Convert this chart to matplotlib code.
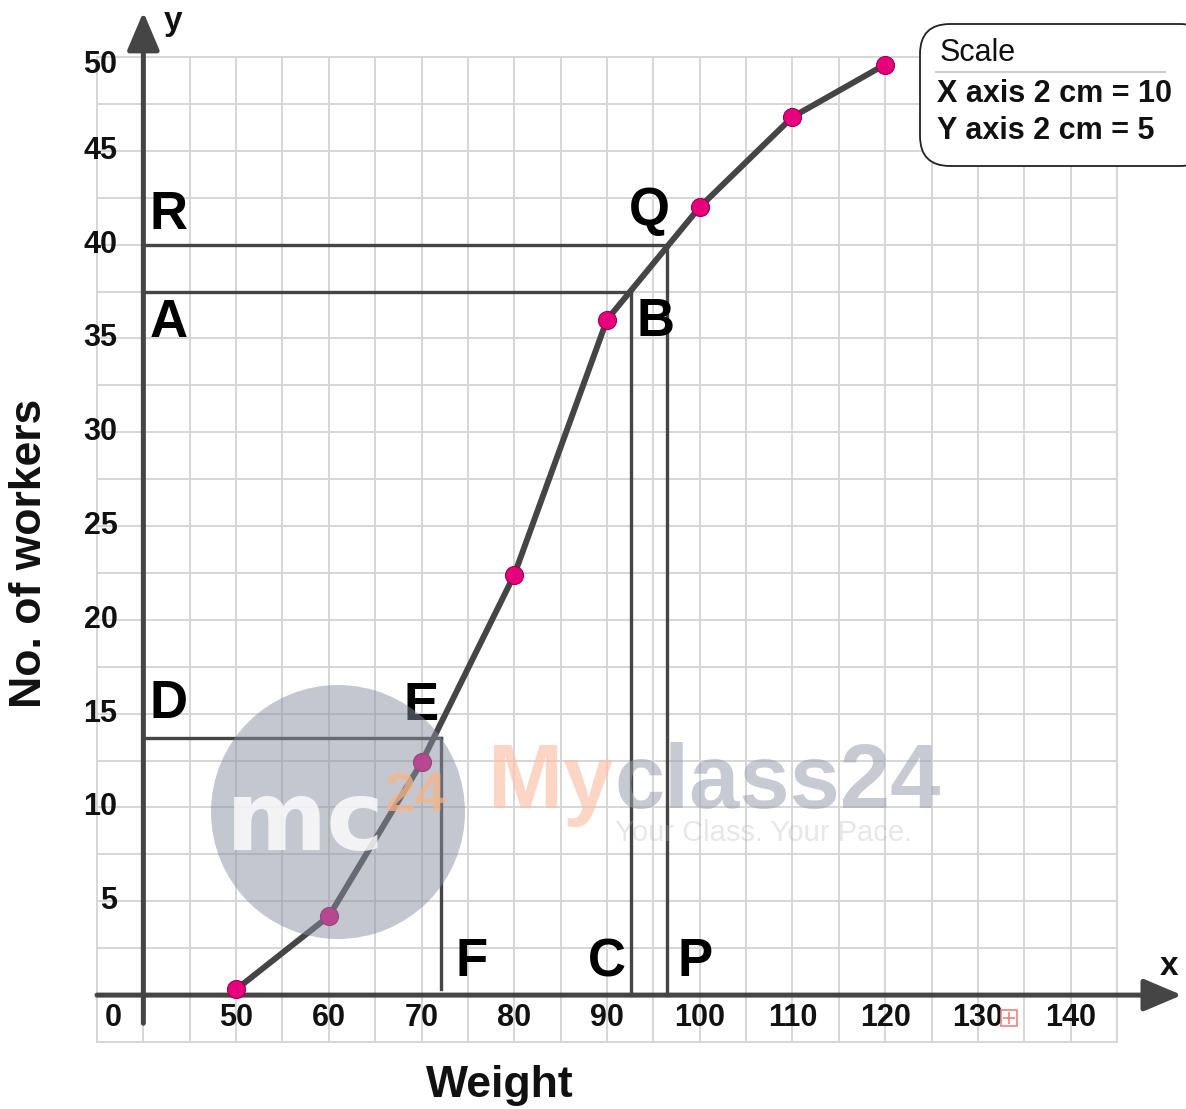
import numpy as np
import matplotlib
matplotlib.use("Agg")
import matplotlib.pyplot as plt
from matplotlib.patches import Circle, FancyBboxPatch

W, H = 1186, 1109

# ogive data (upper class limits vs cumulative number of workers)
weights = [50, 60, 70, 80, 90, 100, 110, 120]
cum_workers = [0.3, 4.2, 12.4, 22.4, 36, 42, 46.8, 49.6]

x_ticks = [50, 60, 70, 80, 90, 100, 110, 120, 130, 140]
y_ticks = [5, 10, 15, 20, 25, 30, 35, 40, 45, 50]

# reading lines: (level on y, value on x)
q_level, q_value = 40, 96.5      # R-Q-P
a_level, a_value = 37.5, 92.6    # A-B-C
d_level, d_value = 13.7, 72.1    # D-E-F

point_labels = ["R", "A", "D", "E", "Q", "B", "C", "P", "F"]
label_x = [40.7, 40.7, 40.7, 70.0, 94.6, 95.2, 90.0, 99.5, 75.4]
label_y = [41.6, 35.8, 15.5, 15.4, 41.8, 35.9, 1.75, 1.75, 1.75]

line_c = "#454545"
txt_c = "#111111"
grid_c = "#d6d6d6"
font = "Liberation Sans"

fig = plt.figure(figsize=(W / 100, H / 100), dpi=100)
fig.patch.set_facecolor("white")

# main axes, placed so the grid fills the same pixels as the reference
ax = fig.add_axes([97 / W, 1 - 1042 / H, 1020 / W, 985 / H])
ax.set_xlim(35, 145)
ax.set_ylim(-2.5, 50)
ax.axis("off")

# graph paper
for gx in np.arange(35, 145.1, 5):
    ax.plot([gx, gx], [-2.5, 50], color=grid_c, lw=1.4, zorder=1, clip_on=False)
for gy in np.arange(-2.5, 50.1, 2.5):
    ax.plot([35, 145], [gy, gy], color=grid_c, lw=1.4, zorder=1, clip_on=False)

# axes with arrows
arr = dict(arrowstyle="-|>,head_length=1.3,head_width=0.55", lw=3.6, color=line_c,
           mutation_scale=18, shrinkA=0, shrinkB=0)
ax.annotate("", xy=(152, 0), xytext=(35, 0), arrowprops=arr, annotation_clip=False, zorder=3)
ax.annotate("", xy=(40, 52.4), xytext=(40, -1.5), arrowprops=arr, annotation_clip=False, zorder=3)

# reading lines
lw_ref = 2.4
ax.plot([40, q_value], [q_level, q_level], color=line_c, lw=lw_ref, zorder=3)
ax.plot([q_value, q_value], [q_level, 0], color=line_c, lw=lw_ref, zorder=3)
ax.plot([40, a_value], [a_level, a_level], color=line_c, lw=lw_ref, zorder=3)
ax.plot([a_value, a_value], [a_level, 0], color=line_c, lw=lw_ref, zorder=3)
ax.plot([40, d_value], [d_level, d_level], color=line_c, lw=lw_ref, zorder=3)
ax.plot([d_value, d_value], [d_level, 0.3], color=line_c, lw=lw_ref, zorder=3)

# ogive
ax.plot(weights, cum_workers, color=line_c, lw=4.3, zorder=4, solid_capstyle="round")
ax.plot(weights, cum_workers, "o", ms=13, color="#e6007b", mec="#9c0050", mew=0.8,
        zorder=5, clip_on=False)

# tick labels
for t in y_ticks:
    ax.text(37.2, min(t, 49.6), str(t), ha="right", va="center", fontsize=22,
            fontweight="bold", family=font, color=txt_c, clip_on=False)
ax.text(37.7, -1.2, "0", ha="right", va="center", fontsize=22, fontweight="bold",
        family=font, color=txt_c)
for t in x_ticks:
    ax.text(t, -1.2, str(t), ha="center", va="center", fontsize=22, fontweight="bold",
            family=font, color=txt_c)
# little red glyph box over the "130" label
ax.plot(133.3, -1.2, "s", ms=12, mfc="white", mec="#f08080", mew=1.2, zorder=6)
ax.plot(133.3, -1.2, "+", ms=9, color="#f08080", mew=1.2, zorder=7)

# point letters
for name, lx, ly in zip(point_labels, label_x, label_y):
    ha = "left" if lx < 41 else "center"
    ax.text(lx, ly, name, ha=ha, va="center", fontsize=38, fontweight="bold",
            family=font, color="black", zorder=6, clip_on=False)
ax.text(43.2, 51.9, "y", ha="center", va="center", fontsize=24, fontweight="bold",
        family=font, color=txt_c, clip_on=False)
ax.text(150.6, 1.5, "x", ha="center", va="center", fontsize=24, fontweight="bold",
        family=font, color=txt_c, clip_on=False)

# overlay in pixel coordinates: labels, scale box, watermark
ov = fig.add_axes([0, 0, 1, 1])
ov.set_xlim(0, W)
ov.set_ylim(H, 0)
ov.axis("off")
ov.patch.set_alpha(0)

ov.text(30, 553, "No. of workers", rotation=90, ha="center", va="center", fontsize=32,
        fontweight="bold", family=font, color=txt_c)
ov.text(500, 1085, "Weight", ha="center", va="center", fontsize=32,
        fontweight="bold", family=font, color=txt_c)

box = FancyBboxPatch((920, 24), 290, 142, boxstyle="round,pad=0,rounding_size=30",
                     fc="white", ec="#222222", lw=1.3, zorder=5)
ov.add_patch(box)
ov.plot([936, 1165], [72, 72], color="#cfcfcf", lw=1.6, zorder=6)
ov.text(940, 53, "Scale", ha="left", va="center", fontsize=22, family=font,
        color=txt_c, zorder=6)
ov.text(937, 94, "X axis 2 cm = 10", ha="left", va="center", fontsize=22,
        fontweight="bold", family=font, color=txt_c, zorder=6)
ov.text(937, 131, "Y axis 2 cm = 5", ha="left", va="center", fontsize=22,
        fontweight="bold", family=font, color=txt_c, zorder=6)

# watermark
ov.add_patch(Circle((338, 812), 127, fc="#8a90a3", alpha=0.5, ec="none", zorder=8))
ov.text(305, 850, "mc", ha="center", va="baseline", fontsize=70, fontweight="bold",
        family="DejaVu Sans", color="white", alpha=0.8, zorder=9)
ov.text(415, 811, "24", ha="center", va="baseline", fontsize=40, fontweight="bold",
        family=font, color="#f6b585", alpha=0.75, zorder=9)
ov.text(488, 808, "My", ha="left", va="baseline", fontsize=65, fontweight="bold",
        family=font, color="#fbbfa5", alpha=0.65, zorder=9)
ov.text(614, 808, "class24", ha="left", va="baseline", fontsize=65, fontweight="bold",
        family=font, color="#9aa0b0", alpha=0.55, zorder=9)
ov.text(615, 841, "Your Class. Your Pace.", ha="left", va="baseline", fontsize=21,
        family=font, color="#aab0bd", alpha=0.3, zorder=9)

fig.savefig("out.png", dpi=100)
